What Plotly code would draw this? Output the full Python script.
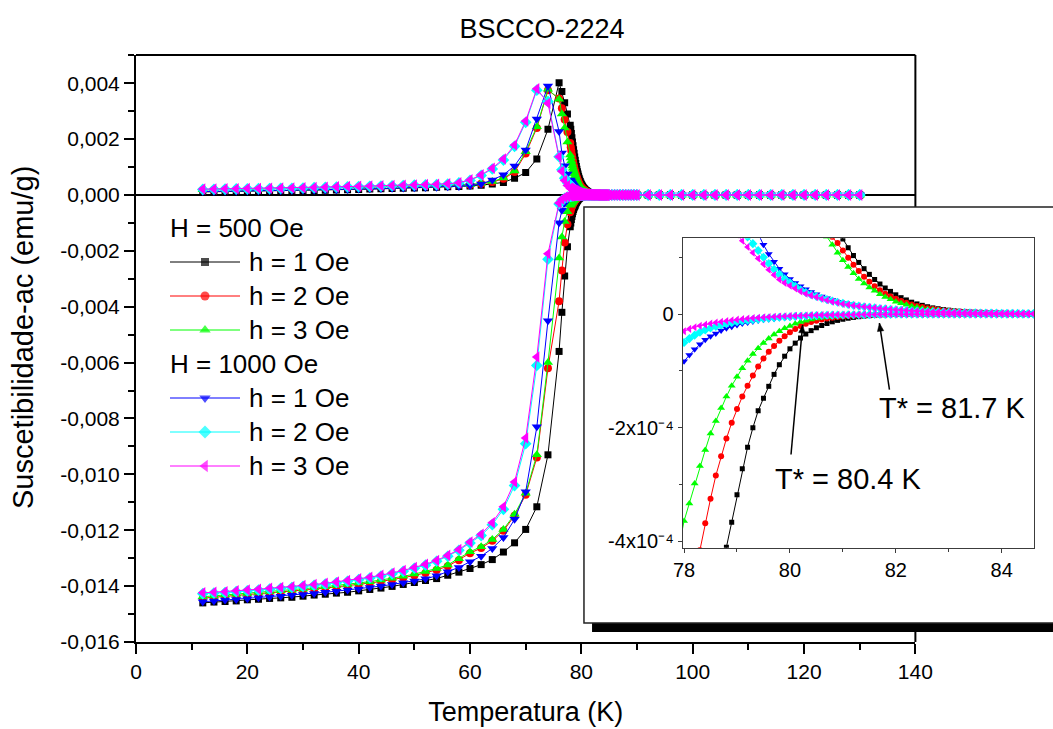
import plotly.graph_objects as go

# ---------------------------------------------------------------------------
# Temperature grid (K): coarse steps far from Tc, 0.1 K steps across the onset
# ---------------------------------------------------------------------------
temp_low = [12, 14, 16, 18, 20, 22, 24, 26, 28, 30, 32, 34, 36, 38, 40, 42, 44,
            46, 48, 50, 52, 54, 56, 58, 60, 62, 64, 66, 68, 70, 72, 74, 76]
temp_mid = [76.5, 77.0, 77.5]
temp_fine = [78.0, 78.1, 78.2, 78.3, 78.4, 78.5, 78.6, 78.7, 78.8, 78.9,
             79.0, 79.1, 79.2, 79.3, 79.4, 79.5, 79.6, 79.7, 79.8, 79.9,
             80.0, 80.1, 80.2, 80.3, 80.4, 80.5, 80.6, 80.7, 80.8, 80.9,
             81.0, 81.1, 81.2, 81.3, 81.4, 81.5, 81.6, 81.7, 81.8, 81.9,
             82.0, 82.1, 82.2, 82.3, 82.4, 82.5, 82.6, 82.7, 82.8, 82.9,
             83.0, 83.1, 83.2, 83.3, 83.4, 83.5, 83.6, 83.7, 83.8, 83.9,
             84.0, 84.1, 84.2, 84.3, 84.4, 84.5, 84.6]
temp_high = [85.0, 85.5, 86.0, 86.5, 87.0, 87.5, 88.0, 88.5, 89.0, 89.5, 90.0,
             92, 94, 96, 98, 100, 102, 104, 106, 108, 110, 112, 114, 116, 118,
             120, 122, 124, 126, 128, 130]

# Susceptibility values in units of 1e-4 emu/g
UNIT = 1e-4

# signal above ~85 K is zero within resolution for every run
flat_high = [0, 0, 0, 0, 0, 0, 0, 0, 0, 0, 0,
             0, 0, 0, 0, 0, 0, 0, 0, 0, 0, 0, 0, 0, 0, 0, 0, 0, 0, 0, 0]

# ---- H = 500 Oe, h = 1 Oe (black) ----
re_500_h1_low = [-146.0, -145.7, -145.5, -145.3, -144.9, -144.7, -144.4, -144.2, -144.0, -143.6,
                 -143.2, -142.9, -142.5, -142.2, -141.7, -141.2, -140.7, -140.1, -139.4, -138.7,
                 -138.0, -137.3, -136.1, -135.0, -133.7, -132.3, -130.5, -127.8, -124.5, -119.7,
                 -111.6, -93.0, -56.0]
re_500_h1_mid = [-42.0, -29.0, -18.5]
re_500_h1_fine = [-11.4, -10.0, -8.8, -7.7, -6.7, -5.9, -5.2, -4.6, -4.1, -3.66,
                  -3.18, -2.72, -2.34, -2.0, -1.7, -1.48, -1.27, -1.06, -0.89, -0.74,
                  -0.61, -0.51, -0.42, -0.35, -0.29, -0.24, -0.2, -0.165, -0.135, -0.11,
                  -0.09, -0.072, -0.057, -0.045, -0.035, -0.027, -0.02, -0.015, -0.011, -0.008,
                  -0.006, -0.004, -0.003, -0.002, -0.001, 0, 0, 0, 0, 0,
                  0, 0, 0, 0, 0, 0, 0, 0, 0, 0,
                  0, 0, 0, 0, 0, 0, 0]
im_500_h1_low = [1.1, 1.15, 1.2, 1.25, 1.3, 1.35, 1.4, 1.45, 1.5, 1.55,
                 1.6, 1.7, 1.8, 1.9, 2.0, 2.1, 2.2, 2.3, 2.4, 2.5,
                 2.6, 2.75, 2.9, 3.05, 3.2, 3.5, 3.9, 4.5, 6.0, 8.0,
                 12.9, 23.5, 40.2]
im_500_h1_mid = [37.0, 33.0, 29.0]
im_500_h1_fine = [25.0, 23.5, 22.0, 20.5, 19.0, 17.6, 16.2, 14.9, 13.6, 12.4,
                  11.3, 10.2, 9.2, 8.3, 7.5, 6.7, 6.0, 5.4, 4.8, 4.3,
                  3.85, 3.45, 3.1, 2.78, 2.5, 2.25, 2.02, 1.82, 1.64, 1.47,
                  1.32, 1.17, 1.03, 0.91, 0.8, 0.7, 0.61, 0.53, 0.46, 0.4,
                  0.34, 0.29, 0.25, 0.21, 0.18, 0.155, 0.13, 0.11, 0.095, 0.08,
                  0.07, 0.06, 0.05, 0.045, 0.04, 0.035, 0.03, 0.027, 0.024, 0.021,
                  0.018, 0.016, 0.014, 0.012, 0.011, 0.01, 0.01]

# ---- H = 500 Oe, h = 2 Oe (red) ----
re_500_h2_low = [-144.3, -144.0, -143.7, -143.4, -143.1, -142.8, -142.5, -142.2, -141.9, -141.5,
                 -141.1, -140.7, -140.3, -139.9, -139.4, -138.9, -138.3, -137.7, -137.0, -136.2,
                 -135.3, -134.2, -132.9, -130.7, -128.2, -126.4, -123.8, -120.2, -114.8, -107.3,
                 -94.0, -62.0, -38.0]
re_500_h2_mid = [-27.0, -17.0, -10.5]
re_500_h2_fine = [-6.2, -5.4, -4.7, -4.15, -3.68, -3.25, -2.84, -2.5, -2.19, -1.91,
                  -1.67, -1.45, -1.26, -1.08, -0.92, -0.78, -0.66, -0.56, -0.47, -0.39,
                  -0.32, -0.26, -0.21, -0.17, -0.14, -0.115, -0.095, -0.078, -0.064, -0.052,
                  -0.042, -0.034, -0.027, -0.021, -0.016, -0.012, -0.009, -0.007, -0.005, -0.004,
                  -0.003, -0.002, -0.001, 0, 0, 0, 0, 0, 0, 0,
                  0, 0, 0, 0, 0, 0, 0, 0, 0, 0,
                  0, 0, 0, 0, 0, 0, 0]
im_500_h2_low = [1.8, 1.85, 1.9, 1.95, 2.0, 2.05, 2.1, 2.15, 2.2, 2.25,
                 2.3, 2.4, 2.5, 2.6, 2.7, 2.8, 2.9, 3.0, 3.1, 3.2,
                 3.3, 3.4, 3.5, 3.55, 3.6, 4.0, 4.6, 5.8, 8.2, 14.8,
                 24.0, 37.5, 34.5]
im_500_h2_mid = [31.0, 27.0, 22.5]
im_500_h2_fine = [18.6, 17.1, 15.7, 14.4, 13.2, 12.1, 11.0, 10.0, 9.1, 8.3,
                  7.55, 6.85, 6.2, 5.6, 5.05, 4.55, 4.1, 3.7, 3.35, 3.05,
                  2.78, 2.53, 2.3, 2.1, 1.92, 1.76, 1.61, 1.48, 1.36, 1.25,
                  1.12, 0.99, 0.87, 0.76, 0.66, 0.57, 0.49, 0.42, 0.36, 0.31,
                  0.27, 0.23, 0.2, 0.17, 0.145, 0.125, 0.105, 0.09, 0.075, 0.065,
                  0.055, 0.05, 0.045, 0.04, 0.035, 0.03, 0.027, 0.024, 0.021, 0.018,
                  0.016, 0.014, 0.012, 0.011, 0.01, 0.01, 0.01]

# ---- H = 500 Oe, h = 3 Oe (green) ----
re_500_h3_low = [-143.8, -143.5, -143.2, -142.9, -142.6, -142.3, -142.0, -141.7, -141.4, -141.0,
                 -140.6, -140.2, -139.8, -139.4, -138.9, -138.4, -137.8, -137.2, -136.5, -135.7,
                 -134.8, -133.7, -132.4, -130.2, -127.7, -125.9, -123.3, -119.7, -114.3, -106.8,
                 -93.0, -60.0, -22.6]
re_500_h3_mid = [-15.0, -9.5, -6.0]
re_500_h3_fine = [-3.64, -3.33, -2.98, -2.67, -2.39, -2.1, -1.88, -1.65, -1.45, -1.26,
                  -1.1, -0.95, -0.82, -0.7, -0.6, -0.51, -0.43, -0.36, -0.3, -0.25,
                  -0.21, -0.17, -0.14, -0.115, -0.095, -0.078, -0.064, -0.052, -0.042, -0.034,
                  -0.027, -0.021, -0.016, -0.012, -0.009, -0.007, -0.005, -0.004, -0.003, -0.002,
                  -0.001, 0, 0, 0, 0, 0, 0, 0, 0, 0,
                  0, 0, 0, 0, 0, 0, 0, 0, 0, 0,
                  0, 0, 0, 0, 0, 0, 0]
im_500_h3_low = [1.9, 1.95, 2.0, 2.05, 2.1, 2.15, 2.2, 2.25, 2.3, 2.35,
                 2.4, 2.5, 2.6, 2.7, 2.8, 2.9, 3.0, 3.1, 3.2, 3.3,
                 3.4, 3.5, 3.6, 3.65, 3.7, 4.2, 4.8, 6.1, 8.6, 15.5,
                 24.4, 37.8, 34.3]
im_500_h3_mid = [29.0, 24.0, 19.0]
im_500_h3_fine = [14.3, 13.2, 12.2, 11.3, 10.4, 9.6, 8.85, 8.15, 7.5, 6.9,
                  6.3, 5.75, 5.25, 4.8, 4.35, 3.95, 3.6, 3.28, 2.98, 2.68,
                  2.4, 2.2, 2.02, 1.86, 1.72, 1.59, 1.47, 1.36, 1.22, 1.08,
                  0.95, 0.83, 0.72, 0.62, 0.54, 0.47, 0.41, 0.35, 0.3, 0.26,
                  0.22, 0.19, 0.165, 0.14, 0.12, 0.1, 0.085, 0.075, 0.065, 0.055,
                  0.05, 0.045, 0.04, 0.035, 0.03, 0.027, 0.024, 0.021, 0.018, 0.016,
                  0.014, 0.012, 0.011, 0.01, 0.01, 0.01, 0.01]

# ---- H = 1000 Oe, h = 1 Oe (blue) ----
re_1000_h1_low = [-145.6, -145.3, -145.0, -144.8, -144.5, -144.2, -143.9, -143.6, -143.3, -143.0,
                  -142.6, -142.2, -141.8, -141.4, -141.0, -140.5, -140.0, -139.4, -138.8, -138.2,
                  -137.4, -136.3, -134.9, -133.3, -131.3, -129.3, -126.5, -122.6, -116.1, -106.2,
                  -83.0, -45.0, -9.9]
re_1000_h1_mid = [-5.5, -3.0, -1.6]
re_1000_h1_fine = [-0.83, -0.72, -0.62, -0.53, -0.45, -0.39, -0.34, -0.29, -0.25, -0.22,
                   -0.19, -0.165, -0.145, -0.128, -0.113, -0.1, -0.089, -0.079, -0.07, -0.062,
                   -0.055, -0.049, -0.044, -0.039, -0.035, -0.031, -0.028, -0.025, -0.022, -0.02,
                   -0.018, -0.016, -0.014, -0.012, -0.011, -0.01, -0.009, -0.008, -0.007, -0.006,
                   -0.005, -0.004, -0.004, -0.003, -0.003, -0.002, -0.002, -0.002, -0.001, -0.001,
                   0, 0, 0, 0, 0, 0, 0, 0, 0, 0,
                   0, 0, 0, 0, 0, 0, 0]
im_1000_h1_low = [1.2, 1.25, 1.3, 1.35, 1.4, 1.45, 1.5, 1.55, 1.6, 1.65,
                  1.7, 1.8, 1.9, 2.0, 2.1, 2.2, 2.3, 2.4, 2.5, 2.6,
                  2.7, 2.8, 2.9, 3.0, 3.3, 3.9, 5.4, 7.2, 10.4, 16.1,
                  27.2, 39.0, 22.7]
im_1000_h1_mid = [15.0, 10.5, 7.5]
im_1000_h1_fine = [5.4, 5.0, 4.6, 4.2, 3.85, 3.5, 3.2, 2.92, 2.66, 2.42,
                   2.2, 2.0, 1.8, 1.62, 1.4, 1.22, 1.06, 0.92, 0.8, 0.7,
                   0.62, 0.55, 0.49, 0.44, 0.39, 0.35, 0.31, 0.28, 0.25, 0.22,
                   0.195, 0.175, 0.155, 0.14, 0.125, 0.11, 0.1, 0.09, 0.08, 0.072,
                   0.065, 0.058, 0.052, 0.047, 0.042, 0.038, 0.034, 0.031, 0.028, 0.025,
                   0.023, 0.021, 0.019, 0.017, 0.016, 0.015, 0.014, 0.013, 0.012, 0.011,
                   0.01, 0.01, 0.01, 0.01, 0.01, 0.01, 0.01]

# ---- H = 1000 Oe, h = 2 Oe (cyan) ----
re_1000_h2_low = [-142.7, -142.5, -142.3, -142.0, -141.7, -141.4, -141.1, -140.8, -140.5, -140.1,
                  -139.7, -139.3, -138.8, -138.3, -137.7, -137.1, -136.4, -135.6, -134.7, -133.6,
                  -132.5, -131.1, -129.3, -127.2, -124.6, -121.9, -118.0, -112.5, -104.0, -89.0,
                  -61.0, -23.0, -3.2]
re_1000_h2_mid = [-1.9, -1.2, -0.75]
re_1000_h2_fine = [-0.5, -0.43, -0.37, -0.32, -0.28, -0.245, -0.215, -0.19, -0.17, -0.15,
                   -0.135, -0.12, -0.108, -0.097, -0.087, -0.078, -0.07, -0.063, -0.056, -0.05,
                   -0.045, -0.04, -0.036, -0.032, -0.029, -0.026, -0.023, -0.02, -0.018, -0.016,
                   -0.014, -0.012, -0.011, -0.01, -0.009, -0.008, -0.007, -0.006, -0.005, -0.004,
                   -0.003, -0.003, -0.002, -0.002, -0.001, -0.001, 0, 0, 0, 0,
                   0, 0, 0, 0, 0, 0, 0, 0, 0, 0,
                   0, 0, 0, 0, 0, 0, 0]
im_1000_h2_low = [2.0, 2.05, 2.1, 2.15, 2.2, 2.25, 2.3, 2.35, 2.4, 2.5,
                  2.6, 2.7, 2.8, 2.9, 3.0, 3.1, 3.2, 3.3, 3.4, 3.5,
                  3.6, 3.7, 3.9, 4.3, 5.2, 7.0, 9.3, 12.5, 17.4, 26.0,
                  37.5, 33.5, 13.7]
im_1000_h2_mid = [9.0, 6.0, 4.4]
im_1000_h2_fine = [3.6, 3.35, 3.1, 2.88, 2.67, 2.47, 2.28, 2.1, 1.93, 1.77,
                   1.62, 1.48, 1.36, 1.24, 1.12, 1.0, 0.89, 0.79, 0.7, 0.62,
                   0.55, 0.49, 0.43, 0.38, 0.34, 0.31, 0.28, 0.255, 0.23, 0.21,
                   0.19, 0.17, 0.155, 0.142, 0.13, 0.12, 0.11, 0.1, 0.092, 0.085,
                   0.078, 0.072, 0.066, 0.06, 0.055, 0.05, 0.046, 0.042, 0.039, 0.036,
                   0.033, 0.03, 0.028, 0.026, 0.024, 0.022, 0.02, 0.019, 0.018, 0.017,
                   0.016, 0.015, 0.014, 0.013, 0.012, 0.011, 0.01]

# ---- H = 1000 Oe, h = 3 Oe (magenta) ----
re_1000_h3_low = [-142.4, -142.2, -142.0, -141.7, -141.4, -141.1, -140.8, -140.5, -140.2, -139.8,
                  -139.4, -139.0, -138.5, -138.0, -137.4, -136.8, -136.1, -135.3, -134.4, -133.3,
                  -132.2, -130.8, -129.0, -126.9, -124.2, -121.4, -117.3, -111.6, -102.7, -87.0,
                  -58.0, -21.0, -2.9]
re_1000_h3_mid = [-1.5, -0.8, -0.5]
re_1000_h3_fine = [-0.3, -0.26, -0.23, -0.205, -0.185, -0.165, -0.148, -0.133, -0.12, -0.108,
                   -0.097, -0.087, -0.078, -0.07, -0.063, -0.057, -0.051, -0.046, -0.041, -0.037,
                   -0.033, -0.03, -0.027, -0.024, -0.021, -0.019, -0.017, -0.015, -0.013, -0.012,
                   -0.011, -0.01, -0.009, -0.008, -0.007, -0.006, -0.005, -0.004, -0.004, -0.003,
                   -0.003, -0.002, -0.002, -0.001, -0.001, 0, 0, 0, 0, 0,
                   0, 0, 0, 0, 0, 0, 0, 0, 0, 0,
                   0, 0, 0, 0, 0, 0, 0]
im_1000_h3_low = [2.1, 2.15, 2.2, 2.25, 2.3, 2.35, 2.4, 2.45, 2.5, 2.6,
                  2.7, 2.8, 2.9, 3.0, 3.1, 3.2, 3.3, 3.4, 3.5, 3.6,
                  3.7, 3.8, 4.0, 4.4, 5.4, 7.2, 9.6, 12.9, 17.9, 26.5,
                  38.0, 32.8, 13.7]
im_1000_h3_mid = [8.5, 5.2, 3.4]
im_1000_h3_fine = [2.45, 2.33, 2.21, 2.09, 1.97, 1.86, 1.75, 1.65, 1.56, 1.48,
                   1.4, 1.29, 1.18, 1.08, 0.98, 0.88, 0.78, 0.69, 0.61, 0.55,
                   0.5, 0.45, 0.4, 0.36, 0.33, 0.3, 0.27, 0.245, 0.22, 0.2,
                   0.18, 0.165, 0.15, 0.14, 0.13, 0.12, 0.11, 0.1, 0.092, 0.085,
                   0.078, 0.072, 0.066, 0.06, 0.055, 0.05, 0.046, 0.042, 0.039, 0.036,
                   0.033, 0.03, 0.028, 0.026, 0.024, 0.022, 0.02, 0.019, 0.018, 0.017,
                   0.016, 0.015, 0.014, 0.013, 0.012, 0.011, 0.01]

# Axis tick labels (comma decimal separator)
main_y_tickvals = [0.004, 0.002, 0.0, -0.002, -0.004, -0.006, -0.008,
                   -0.010, -0.012, -0.014, -0.016]
main_y_ticktext = ["0,004", "0,002", "0,000", "-0,002", "-0,004", "-0,006",
                   "-0,008", "-0,010", "-0,012", "-0,014", "-0,016"]
inset_y_tickvals = [-4e-4, -2e-4, 0.0]
inset_y_ticktext = ["-4x10\u207b\u2074", "-2x10\u207b\u2074", "0"]

# Onset temperatures marked in the inset: (label, arrow tip T, tip chi, tail T, tail chi, label T, label chi)
onset_labels = [
    ("T* = 81.7 K", 81.69, -0.16e-4, 81.88, -1.33e-4, 83.08, -1.66e-4),
    ("T* = 80.4 K", 80.24, -0.19e-4, 80.02, -2.47e-4, 81.115, -2.90e-4),
]

temperature = temp_low + temp_mid + temp_fine + temp_high


def assemble(low, mid, fine):
    parts = (low, mid, fine, flat_high)
    refs = (temp_low, temp_mid, temp_fine, temp_high)
    for p, r in zip(parts, refs):
        if len(p) != len(r):
            raise ValueError("length mismatch: %d vs %d" % (len(p), len(r)))
    return [v * UNIT for v in low + mid + fine + flat_high]


runs = [
    ("H = 500 Oe", "h = 1 Oe", "#000000", "square", 7, 5,
     (re_500_h1_low, re_500_h1_mid, re_500_h1_fine), (im_500_h1_low, im_500_h1_mid, im_500_h1_fine)),
    ("H = 500 Oe", "h = 2 Oe", "#FF0000", "circle", 8, 6,
     (re_500_h2_low, re_500_h2_mid, re_500_h2_fine), (im_500_h2_low, im_500_h2_mid, im_500_h2_fine)),
    ("H = 500 Oe", "h = 3 Oe", "#00FF00", "triangle-up", 9, 7,
     (re_500_h3_low, re_500_h3_mid, re_500_h3_fine), (im_500_h3_low, im_500_h3_mid, im_500_h3_fine)),
    ("H = 1000 Oe", "h = 1 Oe", "#0000FF", "triangle-down", 9, 7,
     (re_1000_h1_low, re_1000_h1_mid, re_1000_h1_fine), (im_1000_h1_low, im_1000_h1_mid, im_1000_h1_fine)),
    ("H = 1000 Oe", "h = 2 Oe", "#00FFFF", "diamond", 9, 7,
     (re_1000_h2_low, re_1000_h2_mid, re_1000_h2_fine), (im_1000_h2_low, im_1000_h2_mid, im_1000_h2_fine)),
    ("H = 1000 Oe", "h = 3 Oe", "#FF00FF", "triangle-left", 10, 7,
     (re_1000_h3_low, re_1000_h3_mid, re_1000_h3_fine), (im_1000_h3_low, im_1000_h3_mid, im_1000_h3_fine)),
]

FONT = "Liberation Sans, Arial, sans-serif"
W, H = 1053, 729
ML, MR, MT, MB = 136, 10, 55, 87
PW, PH = W - ML - MR, H - MT - MB

MAIN_X1 = 0.8593
INSET_XDOM = [0.6028, 0.9904]
INSET_YDOM = [0.1606, 0.6877]
INSET_XR = [77.975, 84.616]
INSET_YR = [-4.11e-4, 1.334e-4]


def px_to_paper(px, py):
    return (px - ML) / PW, (H - MB - py) / PH


fig = go.Figure()

for gtitle, name, color, symbol, msize, msize_inset, re_parts, im_parts in runs:
    chi_re = assemble(*re_parts)
    chi_im = assemble(*im_parts)
    xs = temperature + [None] + temperature
    ys = chi_re + [None] + chi_im
    # main panel: real (diamagnetic) and imaginary (loss) branches of one run
    fig.add_trace(go.Scatter(
        x=xs, y=ys, mode="lines+markers", name=name, showlegend=False,
        line=dict(color=color, width=1), connectgaps=False,
        marker=dict(symbol=symbol, size=msize, color=color, line=dict(width=0)),
        xaxis="x", yaxis="y"))
    # inset: zoom on the onset of diamagnetism
    fig.add_trace(go.Scatter(
        x=xs, y=ys, mode="lines+markers", name=name, showlegend=False,
        line=dict(color=color, width=1), connectgaps=False,
        marker=dict(symbol=symbol, size=msize_inset, color=color, line=dict(width=0)),
        xaxis="x2", yaxis="y2"))

# ---- hand-laid legend (group headers + line/marker samples) ----
LEG_LINE_X0, LEG_LINE_X1, LEG_TEXT_X = 170, 240, 247
LEG_ROW0, LEG_PITCH = 228, 34.0
annotations = []
row = 0
last_group = None
for gtitle, name, color, symbol, msize, msize_inset, _, _ in runs:
    if gtitle != last_group:
        gx, gy = px_to_paper(LEG_LINE_X0 - 2, LEG_ROW0 + row * LEG_PITCH)
        annotations.append(dict(text=gtitle, xref="paper", yref="paper", x=gx, y=gy,
                                xanchor="left", yanchor="middle", showarrow=False,
                                font=dict(size=26)))
        row += 1
        last_group = gtitle
    yc = LEG_ROW0 + row * LEG_PITCH
    x0, yy = px_to_paper(LEG_LINE_X0, yc)
    x1, _ = px_to_paper(LEG_LINE_X1, yc)
    fig.add_trace(go.Scatter(
        x=[x0, (x0 + x1) / 2, x1], y=[yy, yy, yy], mode="lines+markers",
        showlegend=False, hoverinfo="skip",
        line=dict(color=color, width=1),
        marker=dict(symbol=symbol, size=[0, msize + 1, 0], color=color, line=dict(width=0)),
        xaxis="x3", yaxis="y3"))
    tx, _ = px_to_paper(LEG_TEXT_X, yc)
    annotations.append(dict(text=name, xref="paper", yref="paper", x=tx, y=yy,
                            xanchor="left", yanchor="middle", showarrow=False,
                            font=dict(size=26)))
    row += 1

fig.update_layout(
    width=W, height=H,
    margin=dict(l=ML, r=MR, t=MT, b=MB, autoexpand=False),
    paper_bgcolor="white", plot_bgcolor="rgba(0,0,0,0)",
    font=dict(family=FONT, color="black", size=21),
    showlegend=False,
    title=dict(text="BSCCO-2224", font=dict(size=27),
               xref="paper", x=0.4476, xanchor="center",
               yref="container", y=1 - 28.5 / H, yanchor="middle"),
    xaxis=dict(domain=[0, MAIN_X1], range=[0, 140], anchor="y",
               title=dict(text="Temperatura (K)", font=dict(size=27), standoff=20),
               showline=True, linecolor="black", linewidth=2, mirror=False,
               ticks="outside", ticklen=10, tickwidth=2, tickcolor="black",
               tick0=0, dtick=20, tickfont=dict(size=21),
               minor=dict(ticks="outside", ticklen=6, tickwidth=2, dtick=10, tickcolor="black"),
               showgrid=False, zeroline=False),
    yaxis=dict(domain=[0, 1], range=[-0.016, 0.00501], anchor="x",
               showline=True, linecolor="black", linewidth=2, mirror=False,
               ticks="outside", ticklen=10, tickwidth=2, tickcolor="black",
               tickvals=main_y_tickvals, ticktext=main_y_ticktext, tickfont=dict(size=21),
               minor=dict(ticks="outside", ticklen=6, tickwidth=2, dtick=0.001, tickcolor="black"),
               showgrid=False, zeroline=True, zerolinecolor="black", zerolinewidth=2),
    xaxis2=dict(domain=INSET_XDOM, range=INSET_XR, anchor="y2",
                showline=True, linecolor="#3c3c3c", linewidth=1, mirror=True,
                ticks="outside", ticklen=4, tickwidth=1, tickcolor="#3c3c3c",
                tick0=78, dtick=2, tickfont=dict(size=20),
                minor=dict(ticks="outside", ticklen=3, tickwidth=1, dtick=1, tickcolor="#3c3c3c"),
                showgrid=False, zeroline=False),
    yaxis2=dict(domain=INSET_YDOM, range=INSET_YR, anchor="x2",
                showline=True, linecolor="#3c3c3c", linewidth=1, mirror=True,
                ticks="outside", ticklen=4, tickwidth=1, tickcolor="#3c3c3c",
                tickvals=inset_y_tickvals, ticktext=inset_y_ticktext, tickfont=dict(size=20),
                minor=dict(ticks="outside", ticklen=3, tickwidth=1, tickcolor="#3c3c3c",
                           tickvals=[-3e-4, -1e-4, 1e-4]),
                showgrid=False, zeroline=False),
    # full-page overlay used only for the legend samples
    xaxis3=dict(domain=[0, 1], range=[0, 1], anchor="y3", visible=False, fixedrange=True),
    yaxis3=dict(domain=[0, 1], range=[0, 1], anchor="x3", visible=False, fixedrange=True),
)

# frame of the main panel, then the inset card with its drop shadow on top of it
shapes = [
    dict(type="line", xref="paper", yref="paper", x0=0, x1=MAIN_X1, y0=1, y1=1,
         line=dict(color="black", width=2), layer="below"),
    dict(type="line", xref="paper", yref="paper", x0=MAIN_X1, x1=MAIN_X1, y0=0, y1=1,
         line=dict(color="black", width=2), layer="below"),
    dict(type="rect", xref="paper", yref="paper", x0=0.5028, x1=1.03, y0=0.017, y1=0.0324,
         fillcolor="black", line=dict(width=0), layer="below"),
    dict(type="rect", xref="paper", yref="paper", x0=0.4939, x1=1.03, y0=0.0324, y1=0.741,
         fillcolor="white", line=dict(color="#222222", width=1.5), layer="below"),
]

# inset pixel scales, used to shape the arrow heads
kx = (INSET_XDOM[1] - INSET_XDOM[0]) * PW / (INSET_XR[1] - INSET_XR[0])
ky = (INSET_YDOM[1] - INSET_YDOM[0]) * PH / (INSET_YR[1] - INSET_YR[0])

for label, tx, ty, ax, ay, lx, ly in onset_labels:
    shapes.append(dict(type="line", xref="x2", yref="y2", x0=ax, y0=ay, x1=tx, y1=ty,
                       line=dict(color="black", width=1.5)))
    dxp, dyp = (tx - ax) * kx, (ty - ay) * ky
    norm = (dxp ** 2 + dyp ** 2) ** 0.5
    ux, uy = dxp / norm, dyp / norm
    head_len, head_half = 8.0, 3.2
    bx, by = -ux * head_len, -uy * head_len
    p1 = (tx + (bx - uy * head_half) / kx, ty + (by + ux * head_half) / ky)
    p2 = (tx + (bx + uy * head_half) / kx, ty + (by - ux * head_half) / ky)
    shapes.append(dict(type="path", xref="x2", yref="y2",
                       path="M %f %.8e L %f %.8e L %f %.8e Z" % (tx, ty, p1[0], p1[1], p2[0], p2[1]),
                       fillcolor="black", line=dict(color="black", width=0.5)))
    annotations.append(dict(text=label, xref="x2", yref="y2", x=lx, y=ly,
                            xanchor="center", yanchor="middle", showarrow=False,
                            font=dict(size=29)))

# vertical axis title, centred where the label block sits
annotations.append(dict(text="Suscetibilidade-ac (emu/g)", xref="paper", yref="paper",
                        x=-0.1246, y=0.5196, xanchor="center", yanchor="middle",
                        textangle=-90, showarrow=False, font=dict(size=29)))

fig.update_layout(shapes=shapes, annotations=annotations)

fig.write_html("out.html")
